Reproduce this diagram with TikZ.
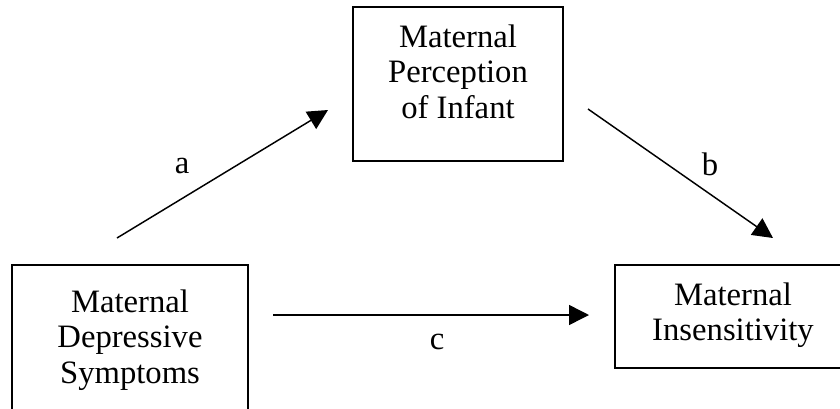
\documentclass[tikz,border=0pt]{standalone}
\usepackage{fontspec}
\setmainfont{Liberation Serif}
\usetikzlibrary{arrows.meta}
\begin{document}
\begin{tikzpicture}[x=0.75pt,y=-0.75pt,
  boxnode/.style={draw=black,line width=1.4pt,rectangle,inner sep=0pt},
  txt/.style={inner sep=0pt,align=center,font=\fontsize{24.5pt}{26.5pt}\selectfont},
  lbl/.style={inner sep=0pt,font=\fontsize{24.5pt}{26.5pt}\selectfont},
  conn/.style={line width=1.1pt,-{Triangle[length=15pt,width=15pt]}}]
\useasboundingbox (0,0) rectangle (840,408);
\clip (0,0) rectangle (840,408);
\fill[white] (0,0) rectangle (840,408);
% boxes
\node[boxnode,minimum width=157.5pt,minimum height=115.5pt] (perc) at (458,84) {};
\node[boxnode,minimum width=177pt,minimum height=116.25pt] (dep) at (130,342.5) {};
\node[boxnode,minimum width=177pt,minimum height=77.25pt] (ins) at (733,316.5) {};
% texts
\node[txt,anchor=north] (perctxt) at (458,24.5) {Maternal\\Perception\\of Infant};
\node[txt,anchor=north] (deptxt) at (130,289.5) {Maternal\\Depressive\\Symptoms};
\node[txt,anchor=north] (instxt) at (733,282.5) {Maternal\\Insensitivity};
% arrow endpoints
\coordinate (a1) at (117,238);
\coordinate (a2) at (328,110);
\coordinate (b1) at (588,109);
\coordinate (b2) at (773,238);
\coordinate (c1) at (273,315);
\coordinate (c2) at (589,315);
\draw[conn] (a1) -- (a2);
\draw[conn] (b1) -- (b2);
\draw[conn] (c1) -- (c2);
% labels
\node[lbl] (la) at (182,166) {a};
\node[lbl] (lb) at (710,164) {b};
\node[lbl] (lc) at (437,342) {c};
\end{tikzpicture}
\end{document}
